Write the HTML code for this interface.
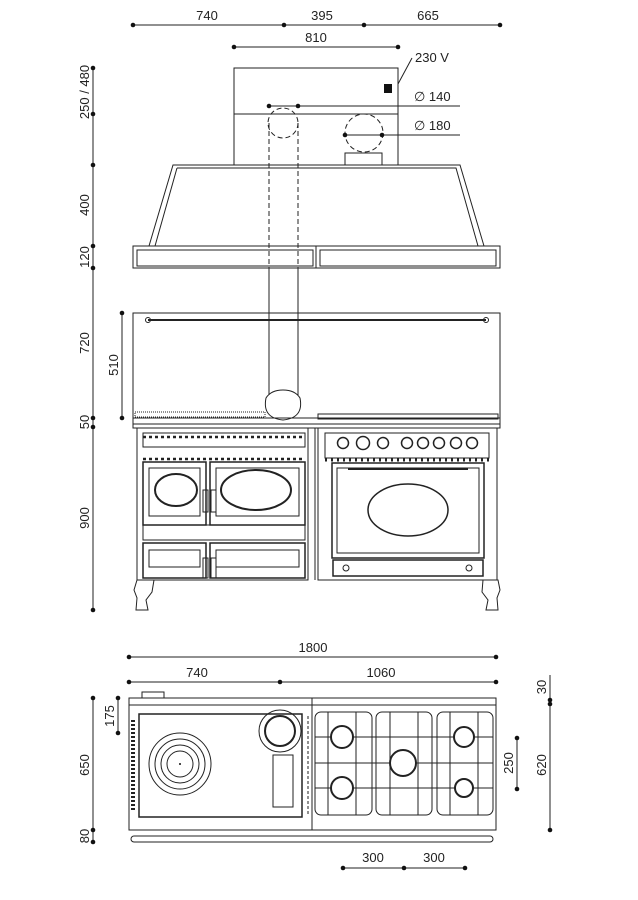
<!DOCTYPE html>
<html><head><meta charset="utf-8"><style>
html,body{margin:0;padding:0;background:#fff}
svg{display:block}
text{font-family:"Liberation Sans",sans-serif;font-size:13px;fill:#222}
</style></head><body>
<svg width="638" height="900" viewBox="0 0 638 900" xmlns="http://www.w3.org/2000/svg">
<g stroke="#222" fill="none" stroke-width="1">
<!-- top dims -->
<line x1="133" y1="25" x2="500" y2="25"/>
<line x1="234" y1="47" x2="398" y2="47"/>
<!-- hood box -->
<rect x="234" y="68" width="164" height="97"/>
<line x1="234" y1="114" x2="398" y2="114"/>
<line x1="398" y1="84" x2="412" y2="58"/>
<line x1="269" y1="106" x2="460" y2="106"/>
<line x1="345" y1="135" x2="460" y2="135"/>
<g stroke-dasharray="5,3">
<circle cx="283" cy="123" r="15"/>
<circle cx="364" cy="133" r="19"/>
<line x1="269" y1="123" x2="269" y2="268"/>
<line x1="298" y1="123" x2="298" y2="268"/>
</g>
<rect x="345" y="153" width="37" height="12"/>
<!-- hood -->
<polygon points="173,165 460,165 484,246 149,246"/>
<polyline points="177,168 456,168 478,246"/>
<line x1="177" y1="168" x2="155" y2="246"/>
<rect x="133" y="246" width="367" height="22"/>
<rect x="137" y="250" width="176" height="16"/>
<rect x="320" y="250" width="176" height="16"/>
<line x1="316" y1="246" x2="316" y2="268"/>
<!-- left dims -->
<line x1="93" y1="68" x2="93" y2="610"/>
<line x1="122" y1="313" x2="122" y2="418"/>
<!-- backsplash -->
<rect x="133" y="313" width="367" height="105"/>
<line x1="148" y1="320" x2="486" y2="320" stroke-width="2"/>
<circle cx="148" cy="320" r="2.5"/><circle cx="486" cy="320" r="2.5"/>
<line x1="269" y1="268" x2="269" y2="395"/>
<line x1="298" y1="268" x2="298" y2="395"/>
<path d="M266,398 Q262,418 283,420 Q304,418 300,398 Q295,390 283,390 Q271,390 266,398Z"/>
<!-- cooktop -->
<rect x="135" y="412" width="130" height="5" stroke-dasharray="1,1"/>
<rect x="318" y="414" width="180" height="5"/>
<rect x="133" y="418" width="367" height="10"/>
<line x1="133" y1="424" x2="500" y2="424"/>
<!-- left unit -->
<rect x="137" y="428" width="171" height="152"/>
<rect x="143" y="433" width="162" height="14"/>
<line x1="143" y1="437" x2="305" y2="437" stroke-width="2.5" stroke-dasharray="3,3"/>
<line x1="143" y1="459" x2="305" y2="459" stroke-width="2.5" stroke-dasharray="3,3"/>
<rect x="143" y="462" width="63" height="63" stroke-width="1.5"/>
<rect x="149" y="468" width="51" height="48"/>
<ellipse cx="176" cy="490" rx="21" ry="16" stroke-width="2"/>
<rect x="210" y="462" width="95" height="63" stroke-width="1.5"/>
<rect x="216" y="468" width="83" height="48"/>
<ellipse cx="256" cy="490" rx="35" ry="20" stroke-width="2"/>
<rect x="143" y="525" width="162" height="15"/>
<rect x="143" y="543" width="63" height="35" stroke-width="1.5"/>
<rect x="149" y="550" width="51" height="17"/>
<rect x="210" y="543" width="95" height="35" stroke-width="1.5"/>
<rect x="216" y="550" width="83" height="17"/>
<rect x="203" y="490" width="5" height="22"/><rect x="211" y="490" width="5" height="22"/>
<rect x="203" y="558" width="5" height="20"/><rect x="211" y="558" width="5" height="20"/>
<line x1="315" y1="428" x2="315" y2="580"/>
<!-- right unit -->
<rect x="318" y="428" width="179" height="152"/>
<rect x="325" y="433" width="164" height="25"/>
<line x1="325" y1="460" x2="489" y2="460" stroke-width="3" stroke-dasharray="2,4"/>
<rect x="332" y="463" width="152" height="95" stroke-width="1.5"/>
<rect x="337" y="468" width="142" height="85"/>
<line x1="348" y1="469" x2="468" y2="469" stroke-width="2"/>
<ellipse cx="408" cy="510" rx="40" ry="26" stroke-width="1.5"/>
<rect x="333" y="560" width="150" height="16" stroke-width="1.5"/>
<circle cx="346" cy="568" r="3"/><circle cx="469" cy="568" r="3"/>
<g stroke-width="1.5">
<circle cx="343" cy="443" r="5.5"/><circle cx="363" cy="443" r="6.5"/><circle cx="383" cy="443" r="5.5"/>
<circle cx="407" cy="443" r="5.5"/><circle cx="423" cy="443" r="5.5"/><circle cx="439" cy="443" r="5.5"/>
<circle cx="456" cy="443" r="5.5"/><circle cx="472" cy="443" r="5.5"/>
</g>
<!-- legs -->
<path d="M137,580 L154,580 L152,592 L146,600 L148,610 L136,610 L137,598 L134,590Z"/>
<path d="M483,580 L498,580 L500,590 L497,598 L498,610 L486,610 L488,600 L482,592Z"/>
<!-- plan dims -->
<line x1="129" y1="657" x2="496" y2="657"/>
<line x1="129" y1="682" x2="496" y2="682"/>
<line x1="93" y1="698" x2="93" y2="842"/>
<line x1="118" y1="698" x2="118" y2="733"/>
<line x1="550" y1="675" x2="550" y2="830"/>
<line x1="517" y1="738" x2="517" y2="789"/>
<line x1="343" y1="868" x2="465" y2="868"/>
<!-- plan -->
<rect x="142" y="692" width="22" height="6"/>
<rect x="129" y="698" width="367" height="132"/>
<line x1="129" y1="705" x2="496" y2="705"/>
<line x1="312" y1="698" x2="312" y2="830"/>
<rect x="139" y="714" width="163" height="103" stroke-width="1.5"/>
<line x1="133" y1="720" x2="133" y2="812" stroke-width="4" stroke-dasharray="2,2"/>
<line x1="308" y1="716" x2="308" y2="815" stroke-dasharray="3,2"/>
<circle cx="180" cy="764" r="31"/><circle cx="180" cy="764" r="25"/><circle cx="180" cy="764" r="19"/><circle cx="180" cy="764" r="13"/>
<circle cx="280" cy="731" r="21"/><circle cx="280" cy="731" r="15" stroke-width="2"/>
<rect x="273" y="755" width="20" height="52"/>
<g>
<rect x="315" y="712" width="57" height="103" rx="6"/>
<rect x="376" y="712" width="56" height="103" rx="6"/>
<rect x="437" y="712" width="56" height="103" rx="6"/>
<line x1="315" y1="737" x2="493" y2="737"/><line x1="315" y1="763" x2="493" y2="763"/><line x1="315" y1="788" x2="493" y2="788"/>
<line x1="328" y1="712" x2="328" y2="815"/><line x1="356" y1="712" x2="356" y2="815"/>
<line x1="390" y1="712" x2="390" y2="815"/><line x1="418" y1="712" x2="418" y2="815"/>
<line x1="450" y1="712" x2="450" y2="815"/><line x1="478" y1="712" x2="478" y2="815"/>
</g>
<g stroke-width="2" fill="#fff">
<circle cx="342" cy="737" r="11"/><circle cx="342" cy="788" r="11"/>
<circle cx="403" cy="763" r="13"/><circle cx="464" cy="737" r="10"/><circle cx="464" cy="788" r="9"/>
</g>
<rect x="131" y="836" width="362" height="6" rx="3"/>
</g>
<!-- dots -->
<g fill="#111">
<circle cx="133" cy="25" r="2.3"/><circle cx="284" cy="25" r="2.3"/><circle cx="364" cy="25" r="2.3"/><circle cx="500" cy="25" r="2.3"/>
<circle cx="234" cy="47" r="2.3"/><circle cx="398" cy="47" r="2.3"/>
<circle cx="269" cy="106" r="2.3"/><circle cx="298" cy="106" r="2.3"/>
<circle cx="345" cy="135" r="2.3"/><circle cx="382" cy="135" r="2.3"/>
<rect x="384" y="84" width="8" height="9"/>
<circle cx="93" cy="68" r="2.3"/><circle cx="93" cy="114" r="2.3"/><circle cx="93" cy="165" r="2.3"/><circle cx="93" cy="246" r="2.3"/><circle cx="93" cy="268" r="2.3"/><circle cx="93" cy="418" r="2.3"/><circle cx="93" cy="427" r="2.3"/><circle cx="93" cy="610" r="2.3"/>
<circle cx="122" cy="313" r="2.3"/><circle cx="122" cy="418" r="2.3"/>
<circle cx="129" cy="657" r="2.3"/><circle cx="496" cy="657" r="2.3"/>
<circle cx="129" cy="682" r="2.3"/><circle cx="280" cy="682" r="2.3"/><circle cx="496" cy="682" r="2.3"/>
<circle cx="93" cy="698" r="2.3"/><circle cx="93" cy="830" r="2.3"/><circle cx="93" cy="842" r="2.3"/>
<circle cx="118" cy="698" r="2.3"/><circle cx="118" cy="733" r="2.3"/>
<circle cx="550" cy="700" r="2.3"/><circle cx="550" cy="704" r="2.3"/><circle cx="550" cy="830" r="2.3"/>
<circle cx="517" cy="738" r="2.3"/><circle cx="517" cy="789" r="2.3"/>
<circle cx="343" cy="868" r="2.3"/><circle cx="404" cy="868" r="2.3"/><circle cx="465" cy="868" r="2.3"/>
<circle cx="180" cy="764" r="1"/>
</g>
<!-- labels -->
<text x="207" y="20" text-anchor="middle">740</text>
<text x="322" y="20" text-anchor="middle">395</text>
<text x="428" y="20" text-anchor="middle">665</text>
<text x="316" y="42" text-anchor="middle">810</text>
<text x="415" y="62">230 V</text>
<text x="414" y="101">∅  140</text>
<text x="414" y="130">∅  180</text>
<text transform="translate(89,92) rotate(-90)" text-anchor="middle">250 / 480</text>
<text transform="translate(89,205) rotate(-90)" text-anchor="middle">400</text>
<text transform="translate(89,257) rotate(-90)" text-anchor="middle">120</text>
<text transform="translate(89,343) rotate(-90)" text-anchor="middle">720</text>
<text transform="translate(118,365) rotate(-90)" text-anchor="middle">510</text>
<text transform="translate(89,422) rotate(-90)" text-anchor="middle">50</text>
<text transform="translate(89,518) rotate(-90)" text-anchor="middle">900</text>
<text x="313" y="652" text-anchor="middle">1800</text>
<text x="197" y="677" text-anchor="middle">740</text>
<text x="381" y="677" text-anchor="middle">1060</text>
<text transform="translate(114,716) rotate(-90)" text-anchor="middle">175</text>
<text transform="translate(89,765) rotate(-90)" text-anchor="middle">650</text>
<text transform="translate(89,836) rotate(-90)" text-anchor="middle">80</text>
<text transform="translate(546,687) rotate(-90)" text-anchor="middle">30</text>
<text transform="translate(546,765) rotate(-90)" text-anchor="middle">620</text>
<text transform="translate(513,763) rotate(-90)" text-anchor="middle">250</text>
<text x="373" y="862" text-anchor="middle">300</text>
<text x="434" y="862" text-anchor="middle">300</text>
</svg>
</body></html>
